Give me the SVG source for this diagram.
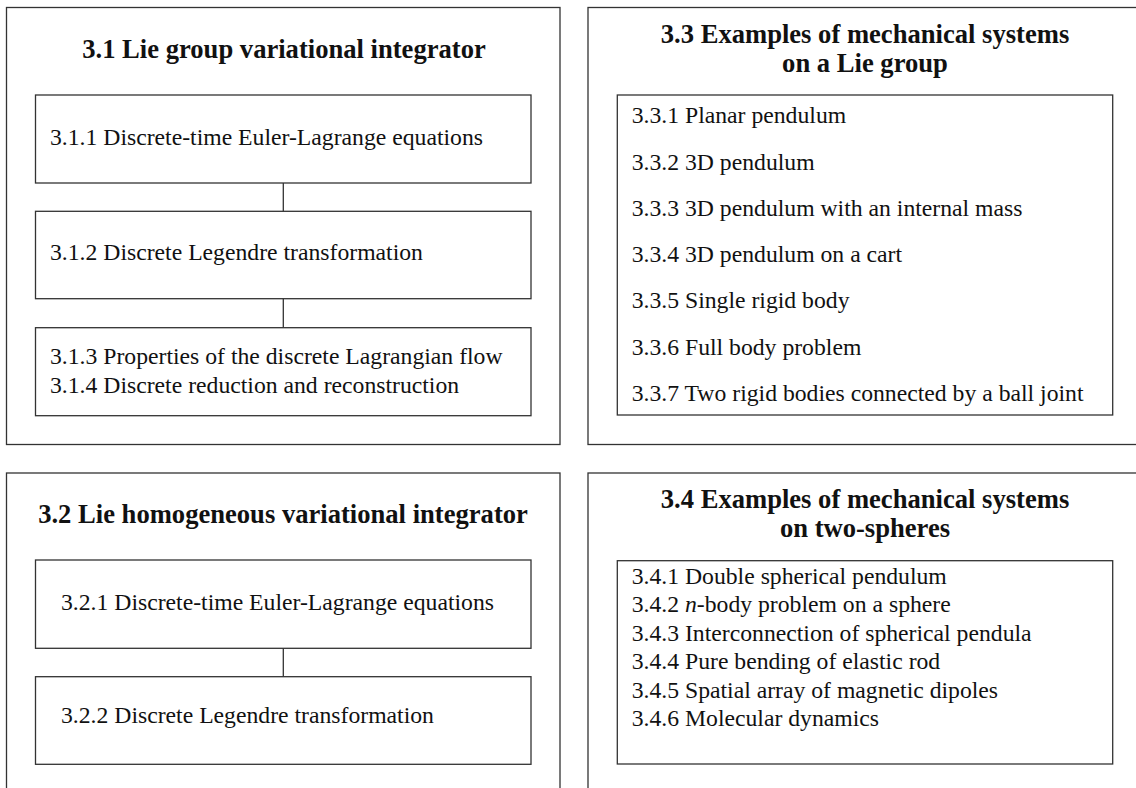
<svg xmlns="http://www.w3.org/2000/svg" width="1136" height="788" viewBox="0 0 1136 788">
<style>
.box{fill:none;stroke:#333;stroke-width:1.3}
.con{fill:none;stroke:#333;stroke-width:1.3}
.t{font-family:"Liberation Serif","Times New Roman",serif;font-size:23.7px;fill:#111}
.h{font-family:"Liberation Serif","Times New Roman",serif;font-size:26.6px;font-weight:bold;fill:#111;text-anchor:middle}
</style>
<rect width="1136" height="788" fill="#fff"/>
<g id="sec31">
<rect class="box" x="6.5" y="7.5" width="553.5" height="437"/>
<text class="h" x="284" y="58.3">3.1 Lie group variational integrator</text>
</g>
<g id="n311">
<rect class="box" x="35.5" y="95" width="495.5" height="88"/>
<text class="t" x="50" y="145">3.1.1 Discrete-time Euler-Lagrange equations</text>
</g>
<g id="n312">
<rect class="box" x="35.5" y="211.3" width="495.5" height="87.4"/>
<text class="t" x="50" y="260">3.1.2 Discrete Legendre transformation</text>
</g>
<g id="n313">
<rect class="box" x="35.5" y="327.7" width="495.5" height="88"/>
<text class="t" x="50" y="364">3.1.3 Properties of the discrete Lagrangian flow</text>
<text class="t" x="50" y="393">3.1.4 Discrete reduction and reconstruction</text>
</g>
<g id="sec32">
<rect class="box" x="6.5" y="473" width="553.5" height="330"/>
<text class="h" x="283" y="523">3.2 Lie homogeneous variational integrator</text>
</g>
<g id="n321">
<rect class="box" x="35.5" y="560" width="495.5" height="88.3"/>
<text class="t" x="61" y="610">3.2.1 Discrete-time Euler-Lagrange equations</text>
</g>
<g id="n322">
<rect class="box" x="35.5" y="676.7" width="495.5" height="87.6"/>
<text class="t" x="61" y="723.3">3.2.2 Discrete Legendre transformation</text>
</g>
<g id="sec33">
<rect class="box" x="588" y="7.5" width="560" height="437"/>
<text class="h" x="865" y="42.7">3.3 Examples of mechanical systems</text>
<text class="h" x="865" y="71.7">on a Lie group</text>
</g>
<g id="n33list">
<rect class="box" x="617.3" y="95" width="495.4" height="320"/>
<text class="t" x="631.7" y="123.3">3.3.1 Planar pendulum</text>
<text class="t" x="631.7" y="169.5">3.3.2 3D pendulum</text>
<text class="t" x="631.7" y="215.8">3.3.3 3D pendulum with an internal mass</text>
<text class="t" x="631.7" y="262">3.3.4 3D pendulum on a cart</text>
<text class="t" x="631.7" y="308.2">3.3.5 Single rigid body</text>
<text class="t" x="631.7" y="354.5">3.3.6 Full body problem</text>
<text class="t" x="631.7" y="400.7">3.3.7 Two rigid bodies connected by a ball joint</text>
</g>
<g id="sec34">
<rect class="box" x="588" y="473" width="560" height="330"/>
<text class="h" x="865" y="508.3">3.4 Examples of mechanical systems</text>
<text class="h" x="865" y="536.7">on two-spheres</text>
</g>
<g id="n34list">
<rect class="box" x="617.3" y="560.7" width="495.4" height="203.3"/>
<text class="t" x="631.7" y="584">3.4.1 Double spherical pendulum</text>
<text class="t" x="631.7" y="612.4">3.4.2 <tspan font-style="italic">n</tspan>-body problem on a sphere</text>
<text class="t" x="631.7" y="640.8">3.4.3 Interconnection of spherical pendula</text>
<text class="t" x="631.7" y="669.2">3.4.4 Pure bending of elastic rod</text>
<text class="t" x="631.7" y="697.6">3.4.5 Spatial array of magnetic dipoles</text>
<text class="t" x="631.7" y="726">3.4.6 Molecular dynamics</text>
</g>
<g id="connectors">
<line class="con" x1="283.3" y1="183" x2="283.3" y2="211.3"/>
<line class="con" x1="283.3" y1="298.7" x2="283.3" y2="327.7"/>
<line class="con" x1="283.3" y1="648.3" x2="283.3" y2="676.7"/>
</g>
</svg>
